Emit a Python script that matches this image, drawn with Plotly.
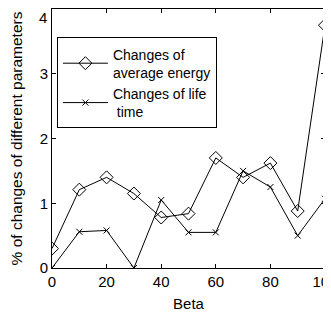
import plotly.graph_objects as go

beta = [0, 10, 20, 30, 40, 50, 60, 70, 80, 90, 100]
avg_energy = [0.30, 1.21, 1.40, 1.15, 0.78, 0.84, 1.70, 1.40, 1.62, 0.88, 3.75]
life_time = [0.00, 0.56, 0.58, 0.00, 1.05, 0.55, 0.55, 1.50, 1.25, 0.50, 1.07]
x_ticks = [0, 20, 40, 60, 80, 100]
y_ticks = [0, 1, 2, 3, 4]
y_tick_labels = ["0", "1", "2", "3", "4"]

font_family = "Liberation Sans, Arial, sans-serif"

fig = go.Figure()
fig.add_trace(go.Scatter(
    x=beta, y=avg_energy, mode="lines+markers",
    name="Changes of<br>average energy",
    line=dict(color="black", width=1),
    marker=dict(symbol="diamond-open", size=10, color="black", line=dict(width=1)),
))
fig.add_trace(go.Scatter(
    x=beta, y=life_time, mode="lines+markers",
    name="Changes of life<br> time",
    line=dict(color="black", width=1),
    marker=dict(symbol="x-thin-open", size=6, color="black", line=dict(width=1, color="black")),
))

# Top tick label drawn as an annotation so it stays inside the page
fig.add_annotation(
    x=0, xref="paper", xanchor="right", xshift=-3,
    y=y_ticks[-1], yref="y", yanchor="top", yshift=2,
    text=y_tick_labels[-1], showarrow=False,
    font=dict(family=font_family, size=15, color="black"),
)

# Page has an 8px body margin, so the figure is drawn at (8, 8)
fig.update_layout(
    width=323, height=310,
    margin=dict(l=44, r=6, t=1, b=50),
    paper_bgcolor="white", plot_bgcolor="white",
    font=dict(family=font_family, size=14, color="black"),
    showlegend=True,
    legend=dict(
        x=0.018, y=0.89, xanchor="left", yanchor="top",
        bordercolor="black", borderwidth=1, bgcolor="white",
        font=dict(size=14), itemwidth=45, tracegroupgap=0,
    ),
    xaxis=dict(
        range=[0, 100], tickvals=x_ticks,
        ticks="inside", ticklen=4, tickcolor="black",
        showline=True, linecolor="black", linewidth=1, mirror="ticks",
        showgrid=False, zeroline=False, ticklabeloverflow="allow",
        automargin=False,
        title=dict(text="Beta", standoff=9, font=dict(size=15)),
        tickfont=dict(size=15),
    ),
    yaxis=dict(
        range=[0, 4], tickvals=y_ticks,
        ticktext=y_tick_labels[:-1] + [""],
        ticks="inside", ticklen=4, tickcolor="black",
        showline=True, linecolor="black", linewidth=1, mirror="ticks",
        showgrid=False, zeroline=False, ticklabeloverflow="allow",
        automargin=False,
        title=dict(text="% of changes of different parameters", standoff=14, font=dict(size=15.5)),
        tickfont=dict(size=15),
    ),
)

fig.write_html("out.html")
